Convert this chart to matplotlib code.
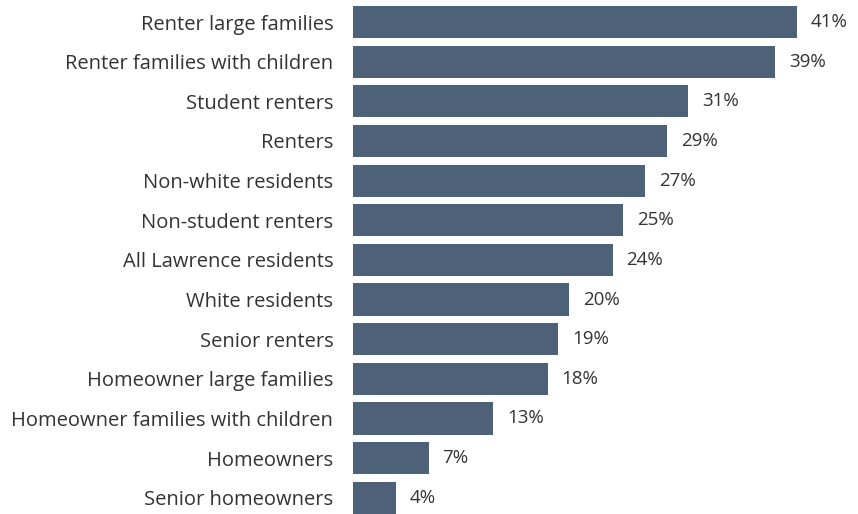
import matplotlib
import matplotlib.pyplot as plt

matplotlib.use('agg')

categories = [
    "Renter large families",
    "Renter families with children",
    "Student renters",
    "Renters",
    "Non-white residents",
    "Non-student renters",
    "All Lawrence residents",
    "White residents",
    "Senior renters",
    "Homeowner large families",
    "Homeowner families with children",
    "Homeowners",
    "Senior homeowners",
]
values = [41, 39, 31, 29, 27, 25, 24, 20, 19, 18, 13, 7, 4]
value_labels = [f"{v}%" for v in values]

BAR_COLOR = "#4d6278"
TEXT_COLOR = "#333333"

plt.rcParams['font.family'] = ['Open Sans', 'DejaVu Sans']

fig = plt.figure(figsize=(8.58, 5.14), dpi=100)
ax = fig.add_axes([352.7 / 858, 0, 1 - 352.7 / 858, 1])

pos = list(range(len(categories)))
rects = ax.barh(pos, values, height=0.81, color=BAR_COLOR)
ax.bar_label(rects, labels=value_labels, padding=10, fontsize=13.5, color=TEXT_COLOR)

ax.set_yticks(pos, categories)
ax.tick_params(axis='y', length=0, pad=14, labelsize=14.5, labelcolor=TEXT_COLOR)
ax.set_xticks([])
ax.set_xlim(0, 505.3 / 10.83)
ax.set_ylim(12.41, -0.555)
for s in ax.spines.values():
    s.set_visible(False)

fig.savefig("out.png", dpi=100)
